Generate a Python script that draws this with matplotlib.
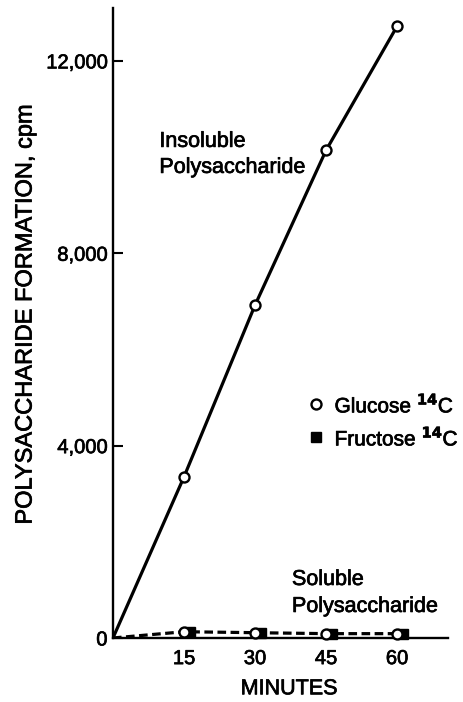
import matplotlib.pyplot as plt
import matplotlib.transforms as mtransforms
import matplotlib.patheffects as pe

plt.rcParams['font.family'] = ['Liberation Sans', 'DejaVu Sans']
# scanned print looks a bit heavier than regular weight
heavy = [pe.withStroke(linewidth=0.5, foreground='black')]

# Data
minutes = [0, 15, 30, 45, 60]
insoluble_glucose = [0, 3350, 6920, 10140, 12720]
soluble_minutes = [15, 30, 45, 60]
soluble_glucose = [130, 110, 90, 90]
soluble_fructose = [130, 110, 90, 90]
soluble_line = [0, 130, 110, 90, 90]

y_ticks = [0, 4000, 8000, 12000]
y_ticklabels = ['0', '4,000', '8,000', '12,000']
x_ticks = [15, 30, 45, 60]

fig = plt.figure(figsize=(4.63, 7.02), dpi=100)
ax = fig.add_axes([0.244, 0.0912, 0.724, 0.8974])

# insoluble line (solid) and soluble line (dashed)
ax.plot(minutes, insoluble_glucose, color='black', lw=2.3, zorder=2)
ax.plot(minutes, soluble_line, color='black', lw=2.3, ls=(0, (2.7, 1.4)), zorder=2)

# fructose squares sit just right of the glucose circles
shift = mtransforms.ScaledTranslation(6 / 100, 0, fig.dpi_scale_trans)
ax.plot(soluble_minutes, soluble_fructose, ls='none', marker='s', ms=7,
        color='black', transform=ax.transData + shift, zorder=3, clip_on=False)

ax.plot(minutes[1:], insoluble_glucose[1:], ls='none', marker='o', ms=7.2,
        mfc='white', mec='black', mew=1.7, zorder=4, clip_on=False)
ax.plot(soluble_minutes, soluble_glucose, ls='none', marker='o', ms=7.2,
        mfc='white', mec='black', mew=1.7, zorder=4, clip_on=False)

ax.set_xlim(0, 70.8)
ax.set_ylim(0, 13100)

for side in ['top', 'right']:
    ax.spines[side].set_visible(False)
for side in ['left', 'bottom']:
    ax.spines[side].set_linewidth(1.7)

ax.set_yticks(y_ticks)
ax.set_yticklabels(y_ticklabels)
ax.set_xticks(x_ticks)
ax.tick_params(axis='y', direction='in', length=7, width=1.5, labelsize=14.5, pad=4)
ax.tick_params(axis='x', length=0, labelsize=14.5, pad=8)
for lab in ax.get_xticklabels() + ax.get_yticklabels():
    lab.set_path_effects(heavy)

ax.set_xlabel('MINUTES', fontsize=15.5, labelpad=8, path_effects=heavy)
ax.xaxis.set_label_coords(0.525, -0.064)
ax.set_ylabel('POLYSACCHARIDE FORMATION, cpm', fontsize=17, path_effects=heavy)
ax.yaxis.set_label_coords(-0.228, 0.513)

txt = dict(fontsize=15.5, va='baseline', ha='left', path_effects=heavy)
ax.text(9.8, 10212, 'Insoluble', **txt)
ax.text(9.8, 9671, 'Polysaccharide', **txt)
ax.text(37.8, 1102, 'Soluble', **txt)
ax.text(37.8, 541, 'Polysaccharide', **txt)

# legend drawn as marker + text
ax.plot([42.9], [4867], ls='none', marker='o', ms=7.2, mfc='white', mec='black',
        mew=1.7, clip_on=False)
ax.text(46.8, 4867, r'Glucose $^{\mathbf{14}}$C', fontsize=15, va='center',
        path_effects=heavy)
ax.plot([42.9], [4180], ls='none', marker='s', ms=7.5, color='black', clip_on=False)
ax.text(46.8, 4180, r'Fructose $^{\mathbf{14}}$C', fontsize=15, va='center',
        path_effects=heavy)

fig.savefig('out.png', dpi=100)
